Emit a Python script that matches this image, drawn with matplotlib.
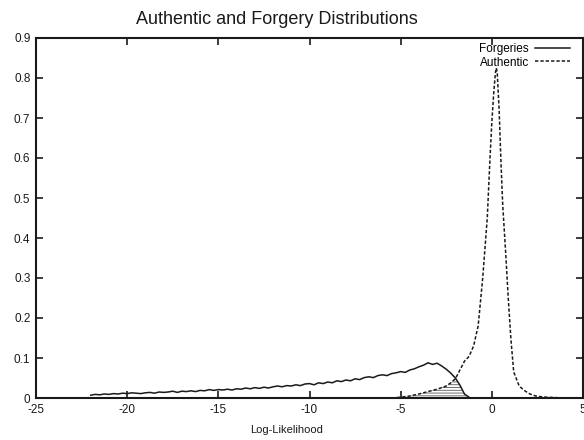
import numpy as np
import matplotlib
matplotlib.use("Agg")
import matplotlib.pyplot as plt

plt.rcParams['font.family'] = ['Liberation Sans', 'DejaVu Sans']
plt.rcParams['hatch.linewidth'] = 0.6

# forgery log-likelihood distribution (solid)
forg_x = [-22.00, -21.75, -21.50, -21.25, -21.00, -20.75, -20.50, -20.25,
          -20.00, -19.75, -19.50, -19.25, -19.00, -18.75, -18.50, -18.25,
          -18.00, -17.75, -17.50, -17.25, -17.00, -16.75, -16.50, -16.25,
          -16.00, -15.75, -15.50, -15.25, -15.00, -14.75, -14.50, -14.25,
          -14.00, -13.75, -13.50, -13.25, -13.00, -12.75, -12.50, -12.25,
          -12.00, -11.75, -11.50, -11.25, -11.00, -10.75, -10.50, -10.25,
          -10.00, -9.75, -9.50, -9.25, -9.00, -8.75, -8.50, -8.25,
          -8.00, -7.75, -7.50, -7.25, -7.00, -6.75, -6.50, -6.25,
          -6.00, -5.75, -5.50, -5.25, -5.00, -4.75, -4.50, -4.25,
          -4.00, -3.75, -3.50, -3.25, -3.00, -2.75, -2.50, -2.25,
          -2.00, -1.75, -1.50, -1.25]
forg_y = [0.007, 0.009, 0.008, 0.010, 0.009, 0.011, 0.010, 0.012,
          0.011, 0.013, 0.012, 0.011, 0.013, 0.014, 0.012, 0.015,
          0.014, 0.015, 0.017, 0.014, 0.017, 0.016, 0.018, 0.016,
          0.019, 0.018, 0.021, 0.019, 0.021, 0.020, 0.022, 0.020,
          0.023, 0.022, 0.025, 0.023, 0.026, 0.024, 0.027, 0.025,
          0.028, 0.030, 0.028, 0.031, 0.030, 0.033, 0.031, 0.035,
          0.036, 0.033, 0.038, 0.036, 0.040, 0.038, 0.043, 0.041,
          0.045, 0.043, 0.048, 0.046, 0.051, 0.053, 0.051, 0.056,
          0.058, 0.056, 0.061, 0.063, 0.066, 0.064, 0.070, 0.073,
          0.078, 0.082, 0.088, 0.084, 0.087, 0.080, 0.072, 0.062,
          0.050, 0.032, 0.010, 0.002]

# authentic log-likelihood distribution (dashed)
auth_x = [-5.5, -5.0, -4.5, -4.0, -3.5, -3.0, -2.5, -2.25, -2.0,
          -1.75, -1.5, -1.25, -1.0, -0.75, -0.5, -0.25, -0.1, 0.0,
          0.1, 0.2, 0.25, 0.3, 0.4, 0.5, 0.6, 0.75, 0.9, 1.05,
          1.2, 1.5, 1.75, 2.0, 2.25, 2.5, 3.0, 3.5, 4.0]
auth_y = [0.0, 0.002, 0.005, 0.010, 0.016, 0.022, 0.030, 0.038, 0.048,
          0.070, 0.092, 0.104, 0.130, 0.180, 0.300, 0.450, 0.600, 0.690,
          0.760, 0.815, 0.825, 0.810, 0.720, 0.590, 0.480, 0.370, 0.250, 0.145,
          0.065, 0.030, 0.020, 0.012, 0.007, 0.004, 0.002, 0.001, 0.0]

x_ticks = [-25, -20, -15, -10, -5, 0, 5]
y_ticks = [0, 0.1, 0.2, 0.3, 0.4, 0.5, 0.6, 0.7, 0.8, 0.9]
y_labels = ['0', '0.1', '0.2', '0.3', '0.4', '0.5', '0.6', '0.7', '0.8', '0.9']

fig = plt.figure(figsize=(5.84, 4.4), dpi=100)
ax = fig.add_axes([36 / 584, 42 / 440, 547 / 584, 360 / 440])

ink = '#1a1a1a'
ax.plot(forg_x, forg_y, color=ink, lw=1.1, label='Forgeries')
ax.plot(auth_x, auth_y, color=ink, lw=1.1, linestyle=(0, (2.2, 1.3)),
        label='Authentic')

# overlap region: authentic below the crossing, forgeries above it
fx = np.array(forg_x)
fy = np.array(forg_y)
axx = np.array(auth_x)
ayy = np.array(auth_y)
ov_x = np.concatenate([axx[axx <= -2.0], fx[fx > -2.0]])
ov_y = np.concatenate([ayy[axx <= -2.0], fy[fx > -2.0]])
ax.fill_between(ov_x, 0, ov_y, facecolor='none', edgecolor='#555555',
                hatch='------', linewidth=0)

ax.set_xlim(-25, 5)
ax.set_ylim(0, 0.9)
ax.set_xticks(x_ticks)
ax.set_xticklabels([str(t) for t in x_ticks])
ax.set_yticks(y_ticks)
ax.set_yticklabels(y_labels)
ax.tick_params(direction='in', length=5, width=1.2, top=True, right=True,
               labelsize=8.5, colors=ink, pad=4)
for s in ax.spines.values():
    s.set_linewidth(1.5)
    s.set_color(ink)

leg = ax.legend(loc='upper right', bbox_to_anchor=(0.985, 0.998),
                frameon=False, markerfirst=False, fontsize=8.5,
                handlelength=3.0, handletextpad=0.5, labelspacing=0.1,
                borderaxespad=0.0)

fig.text(277 / 584, 1 - 20 / 440, 'Authentic and Forgery Distributions',
         ha='center', va='center', fontsize=13, color=ink)
fig.text(287 / 584, 1 - 430 / 440, 'Log-Likelihood', ha='center',
         va='center', fontsize=8, color=ink)

fig.savefig('out.png', dpi=100)
